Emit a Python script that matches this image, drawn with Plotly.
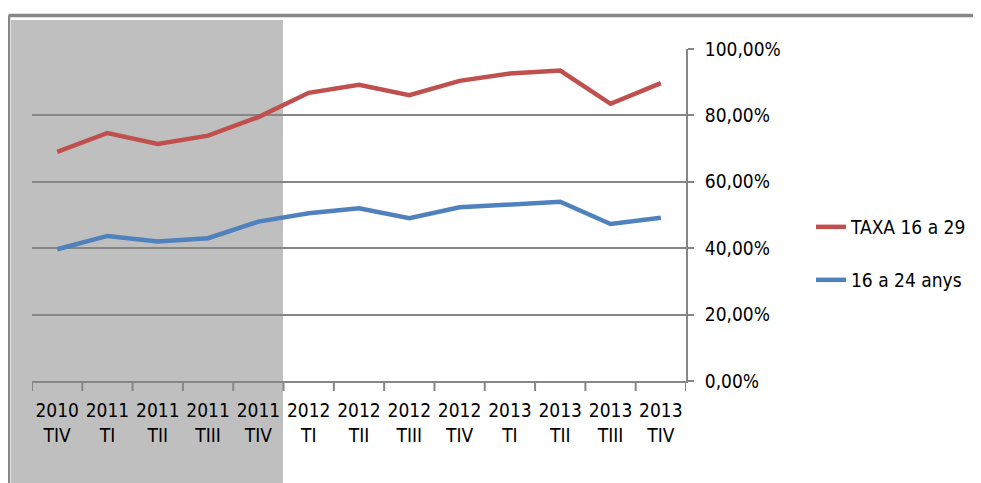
import plotly.graph_objects as go

years = ["2010", "2011", "2011", "2011", "2011", "2012", "2012", "2012", "2012", "2013", "2013", "2013", "2013"]
quarters = ["TIV", "TI", "TII", "TIII", "TIV", "TI", "TII", "TIII", "TIV", "TI", "TII", "TIII", "TIV"]
taxa_16_29 = [69.0, 74.7, 71.4, 73.9, 79.5, 86.8, 89.2, 86.1, 90.4, 92.6, 93.5, 83.5, 89.7]
anys_16_24 = [39.7, 43.7, 42.0, 43.0, 48.0, 50.5, 52.0, 49.0, 52.3, 53.0, 54.0, 47.3, 49.2]
y_ticks = [0, 20, 40, 60, 80, 100]
y_tick_labels = ["0,00%", "20,00%", "40,00%", "60,00%", "80,00%", "100,00%"]

categories = [f"{y}<br>{q}" for y, q in zip(years, quarters)]
x_idx = list(range(len(categories)))

FONT = "DejaVu Sans Condensed, DejaVu Sans, sans-serif"
FS = 19
GRID = "#868686"

OFF = 8  # page body margin offset
W, H = 981 - OFF, 483 - OFF
# plot area in page pixels, converted to figure pixels
L, R, T, B = 32 - OFF, 686 - OFF, 49 - OFF, 381 - OFF
pw, ph = R - L, B - T

def px(x):  # page pixel -> paper
    return (x - OFF - L) / pw

def py(y):
    return (B - (y - OFF)) / ph

fig = go.Figure()
fig.add_trace(go.Scatter(x=x_idx, y=taxa_16_29, mode="lines", name="TAXA 16 a 29",
                         line=dict(color="#C0504D", width=4.5), legend="legend", showlegend=True))
fig.add_trace(go.Scatter(x=x_idx, y=anys_16_24, mode="lines", name="16 a 24 anys",
                         line=dict(color="#4F81BD", width=4.5), legend="legend2", showlegend=True))

shapes = [
    # grey shaded period
    dict(type="rect", xref="paper", yref="paper", x0=px(11), x1=px(283), y0=py(483 + 5), y1=py(20),
         fillcolor="#BFBFBF", line=dict(width=0), layer="below"),
    # chart outer border (top and left)
    dict(type="line", xref="paper", yref="paper", x0=px(8.5), x1=px(981 + 5), y0=py(15.5), y1=py(15.5),
         line=dict(color=GRID, width=3.5), layer="above"),
    dict(type="line", xref="paper", yref="paper", x0=px(8.5), x1=px(8.5), y0=py(15.5), y1=py(483 + 5),
         line=dict(color=GRID, width=3.5), layer="above"),
]

fig.update_layout(
    width=W, height=H,
    margin=dict(l=L, r=W - R, t=T, b=H - B, pad=0, autoexpand=False),
    paper_bgcolor="white",
    plot_bgcolor="rgba(0,0,0,0)",
    showlegend=True,
    font=dict(family=FONT, size=FS, color="black"),
    shapes=shapes,
    xaxis=dict(
        tickmode="array", tickvals=x_idx, ticktext=categories,
        range=[-0.5, len(categories) - 0.5],
        showgrid=False, zeroline=False,
        showline=True, linecolor=GRID, linewidth=2,
        ticks="", tickangle=0, tickfont=dict(family=FONT, size=FS, color="black"),
        ticklabelstandoff=11,
    ),
    yaxis=dict(
        side="right", range=[0, 100],
        tickmode="array", tickvals=y_ticks, ticktext=y_tick_labels,
        showgrid=True, gridcolor=GRID, gridwidth=2,
        zeroline=False, showline=True, linecolor=GRID, linewidth=2,
        ticks="outside", ticklen=6, tickcolor=GRID, tickwidth=2,
        tickfont=dict(family=FONT, size=FS, color="black"),
        ticklabelstandoff=7,
    ),
    legend=dict(x=px(811), y=py(227), xanchor="left", yanchor="middle",
                bgcolor="rgba(0,0,0,0)", font=dict(family=FONT, size=FS, color="black")),
    legend2=dict(x=px(811), y=py(280), xanchor="left", yanchor="middle",
                 bgcolor="rgba(0,0,0,0)", font=dict(family=FONT, size=FS, color="black")),
)

# x-axis boundary tick marks (categories sit between ticks)
for b in range(len(categories) + 1):
    fig.add_shape(type="line", xref="x", yref="paper", x0=b - 0.5, x1=b - 0.5,
                  y0=0, y1=py(381 + 10), line=dict(color=GRID, width=2), layer="above")

fig.write_html("out.html")
